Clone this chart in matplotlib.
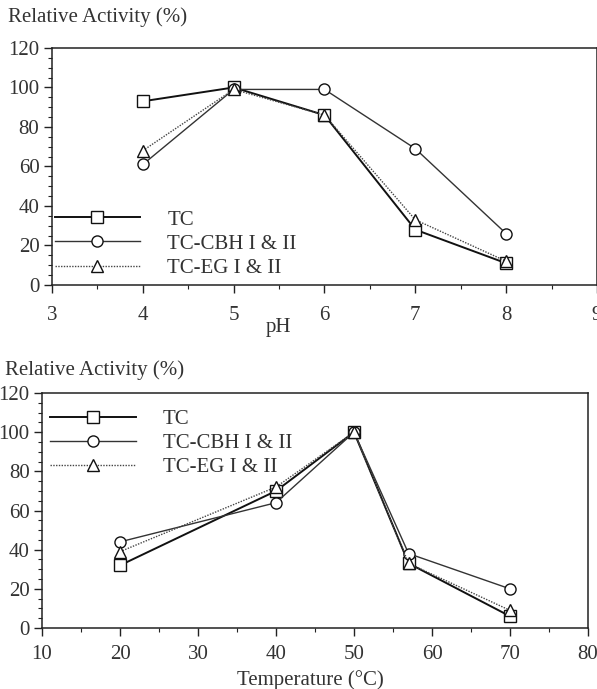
import numpy as np
import matplotlib
matplotlib.use('Agg')
import matplotlib.pyplot as plt
from matplotlib.ticker import MultipleLocator

plt.rcParams['font.family'] = ['Liberation Serif', 'DejaVu Serif']
plt.rcParams['font.size'] = 15

# pH data
ph = [4, 5, 6, 7, 8]
ph_tc = [93, 100, 86, 28, 11]
ph_cbh = [61, 99, 99, 69, 26]
ph_eg = [68, 99, 86, 33, 12]

# temperature data
temp = [20, 40, 50, 57, 70]
t_tc = [32, 70, 100, 33, 6]
t_cbh = [44, 64, 100, 38, 20]
t_eg = [39, 72, 100, 33, 9]

names = ['TC', 'TC-CBH I & II', 'TC-EG I & II']
styles = [
    dict(marker='s', color='#111111', lw=1.4, ls='-'),
    dict(marker='o', color='#333333', lw=1.0, ls='-'),
    dict(marker='^', color='#444444', lw=1.0, ls=(0, (1, 1))),
]
txt_col = '#333333'

fig = plt.figure(figsize=(5.97, 6.89), dpi=100)


def style_axes(ax, xpad):
    for s in ax.spines.values():
        s.set_linewidth(1.1)
        s.set_color('#222222')
    ax.yaxis.set_major_locator(MultipleLocator(20))
    ax.yaxis.set_minor_locator(MultipleLocator(5))
    ax.tick_params(which='major', direction='out', length=6, width=1.0,
                   color='#222222', labelcolor=txt_col, top=False, right=False)
    ax.tick_params(which='minor', direction='out', length=3, width=0.8,
                   color='#222222', top=False, right=False)
    ax.tick_params(axis='x', which='major', pad=xpad)
    ax.tick_params(axis='y', which='major', pad=3)
    ax.set_ylim(0, 120)


def draw(ax, x, series):
    for y, st, name in zip(series, styles, names):
        ax.plot(x, y, marker=st['marker'], color=st['color'], lw=st['lw'],
                ls=st['ls'], ms=8, mfc='white', mec='#111111', mew=1.0,
                label=name, clip_on=False)


leg_kw = dict(frameon=False, handlelength=4.1, handletextpad=1.3,
              labelspacing=0.22, borderaxespad=0.0, borderpad=0.0,
              fontsize=15, labelcolor=txt_col)

# top panel: pH
ax1 = fig.add_axes([0.0871, 0.5864, 0.9129, 0.3440])
style_axes(ax1, 9)
ax1.set_xlim(3, 9)
ax1.xaxis.set_major_locator(MultipleLocator(1))
ax1.xaxis.set_minor_locator(MultipleLocator(0.5))
draw(ax1, ph, [ph_tc, ph_cbh, ph_eg])
ax1.legend(loc='lower left', bbox_to_anchor=(0.005, 0.03), **leg_kw)
fig.text(8 / 597, 1 - 17 / 689, 'Relative Activity (%)', ha='left',
         va='center', color=txt_col)
fig.text(278 / 597, 1 - 327 / 689, 'pH', ha='center', va='center',
         color=txt_col)

# bottom panel: temperature
ax2 = fig.add_axes([0.0704, 0.0885, 0.9146, 0.3411])
style_axes(ax2, 6)
ax2.set_xlim(10, 80)
ax2.xaxis.set_major_locator(MultipleLocator(10))
ax2.xaxis.set_minor_locator(MultipleLocator(5))
draw(ax2, temp, [t_tc, t_cbh, t_eg])
ax2.legend(loc='upper left', bbox_to_anchor=(0.015, 0.93), **leg_kw)
fig.text(5 / 597, 1 - 370 / 689, 'Relative Activity (%)', ha='left',
         va='center', color=txt_col)
fig.text(310 / 597, 1 - 680 / 689, 'Temperature (°C)', ha='center',
         va='center', color=txt_col)

fig.savefig('out.png', dpi=100)
